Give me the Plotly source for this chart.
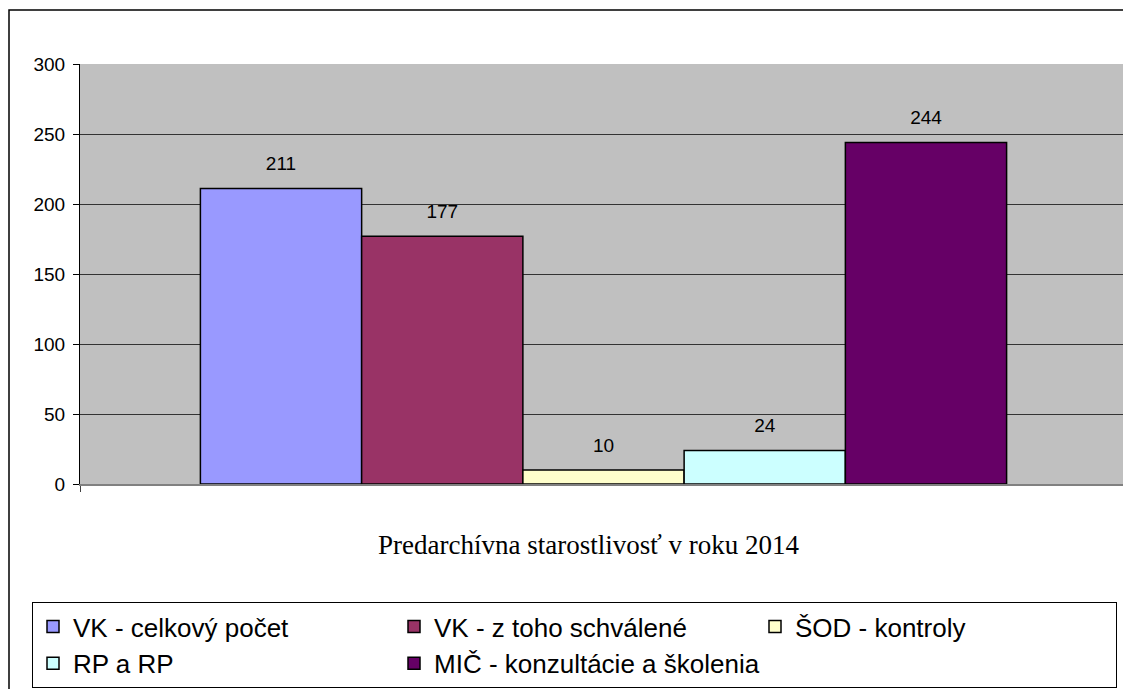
import plotly.graph_objects as go

category = [""]
series_names = ["VK - celkový počet", "VK - z toho schválené", "ŠOD - kontroly",
                "RP a RP", "MIČ - konzultácie a školenia"]
series_values = [211, 177, 10, 24, 244]
series_colors = ["#9999FF", "#993366", "#FFFFCC", "#CCFFFF", "#660066"]
title_text = "Predarchívna starostlivosť v roku 2014"

# page body has an 8px margin, so the figure is laid out 8px smaller
W, H = 1123, 681
L, R, T, B = 72, 1119, 56, 476  # plot area in figure pixels
pw, ph = R - L, B - T

fig = go.Figure()
for name, val, col in zip(series_names, series_values, series_colors):
    fig.add_trace(go.Bar(
        x=category, y=[val], name=name, offsetgroup=name,
        marker=dict(color=col, line=dict(color="black", width=1.5)),
    ))
# value labels (grouped scatter aligned with the bars)
for name, val in zip(series_names, series_values):
    fig.add_trace(go.Scatter(
        x=category, y=[val], offsetgroup=name, mode="markers+text",
        text=[str(val)], textposition="top center", showlegend=False,
        marker=dict(size=20, opacity=0), cliponaxis=False, hoverinfo="skip",
        textfont=dict(family="Liberation Sans, Arial", size=19, color="black"),
    ))

fig.update_layout(
    width=W, height=H,
    barmode="group", bargap=0.23, bargroupgap=0,
    scattermode="group", scattergap=0.23,
    margin=dict(l=L, r=W - R, t=T, b=H - B, autoexpand=False),
    paper_bgcolor="white", plot_bgcolor="#C0C0C0",
    font=dict(family="Liberation Sans, Arial", size=19, color="black"),
    showlegend=True,
    legend=dict(
        orientation="h", xref="paper", yref="paper",
        x=(24 - L) / pw, y=-(594 - B) / ph, xanchor="left", yanchor="top",
        bgcolor="white", bordercolor="black", borderwidth=1,
        font=dict(family="Liberation Sans, Arial", size=26, color="black"),
        entrywidth=316, entrywidthmode="pixels", traceorder="normal",
    ),
    annotations=[dict(
        text=title_text, xref="paper", yref="paper",
        x=(580 - L) / pw, y=-(537 - B) / ph,
        xanchor="center", yanchor="middle", showarrow=False,
        font=dict(family="Liberation Serif, Times New Roman", size=27, color="black"),
    )],
    shapes=[dict(type="rect", xref="paper", yref="paper",
                 x0=(1 - L) / pw, x1=(1160 - L) / pw,
                 y0=-(720 - B) / ph, y1=1 + (T - 2) / ph,
                 line=dict(color="black", width=1.5), fillcolor="rgba(0,0,0,0)",
                 layer="below")],
)
fig.update_yaxes(range=[0, 300], dtick=50, showgrid=True, gridcolor="#333333", gridwidth=1,
                 showline=True, linecolor="black", linewidth=1,
                 ticks="outside", ticklen=6, tickcolor="black", zeroline=False,
                 ticklabelstandoff=4)
fig.update_xaxes(showticklabels=False, ticks="outside", ticklen=6, tickcolor="#404040",
                 tickson="boundaries", showline=True, linecolor="#808080", linewidth=1.5,
                 showgrid=False)

fig.write_html("out.html")
